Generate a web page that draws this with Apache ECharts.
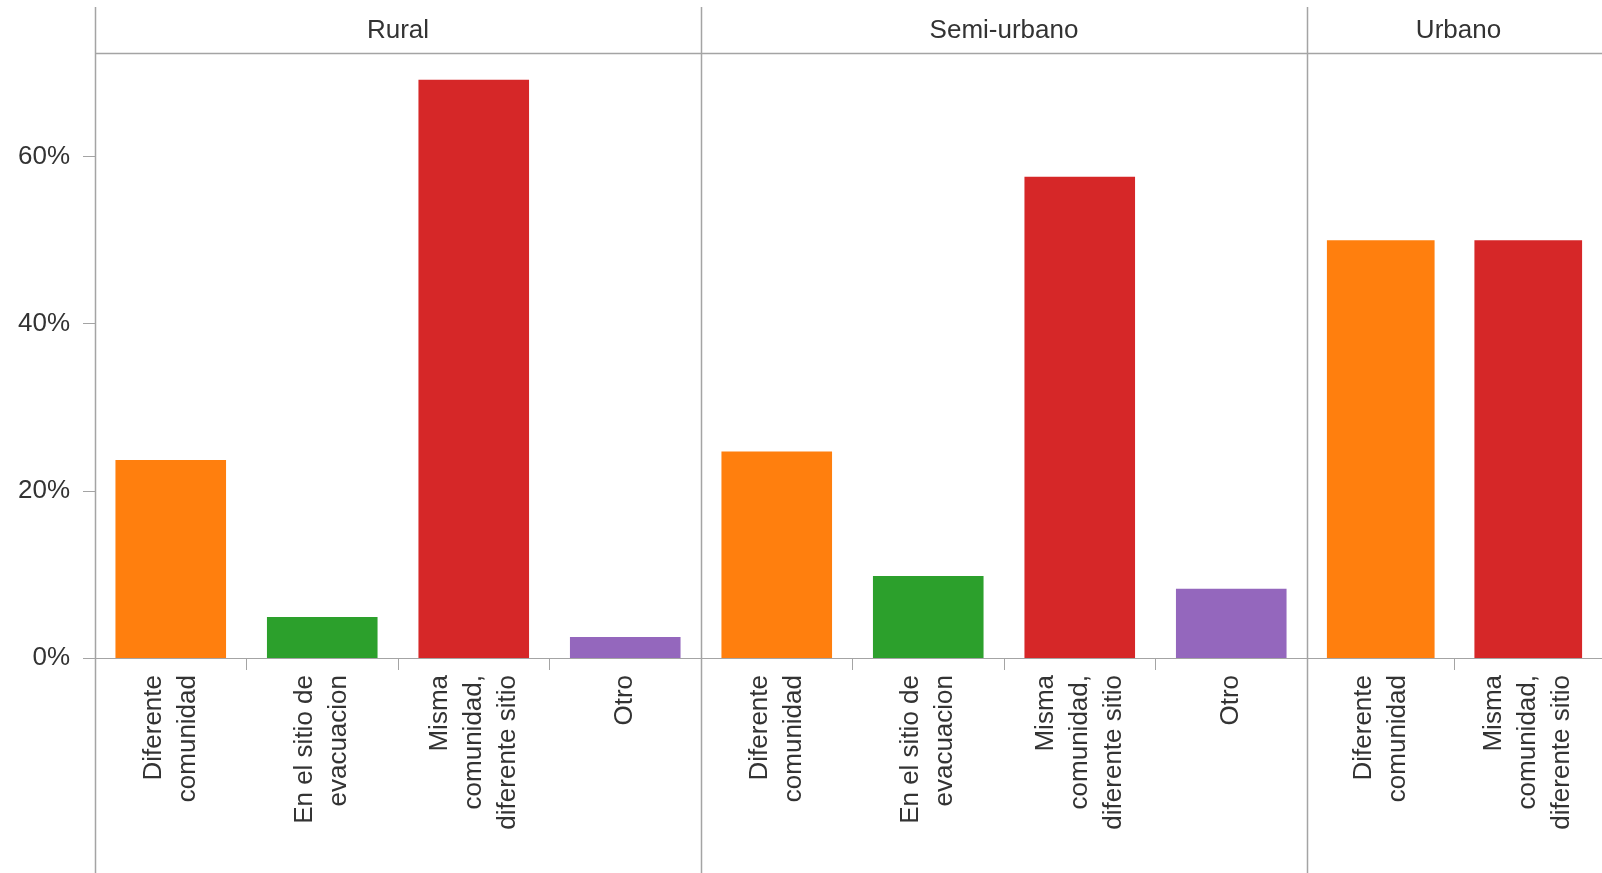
<!DOCTYPE html>
<html><head><meta charset="utf-8">
<script src="https://cdn.jsdelivr.net/npm/echarts@6/dist/echarts.min.js"></script>
<style>html,body{margin:0;padding:0;background:#fff}#c{width:1602px;height:873px}</style>
</head><body><div id="c"></div>
<script>
// ---- data ----
const panels = ['Rural', 'Semi-urbano', 'Urbano'];
const ruralCategories = ['Diferente comunidad', 'En el sitio de evacuacion', 'Misma comunidad, diferente sitio', 'Otro'];
const ruralValues = [23.7, 4.9, 69.2, 2.5];
const semiCategories = ['Diferente comunidad', 'En el sitio de evacuacion', 'Misma comunidad, diferente sitio', 'Otro'];
const semiValues = [24.7, 9.8, 57.6, 8.3];
const urbanoCategories = ['Diferente comunidad', 'Misma comunidad, diferente sitio'];
const urbanoValues = [50.0, 50.0];
const yTicks = [0, 20, 40, 60];
const yMax = 72.4;

// ---- styling ----
const categoryColors = {
  'Diferente comunidad': '#ff7f0e',
  'En el sitio de evacuacion': '#2ca02c',
  'Misma comunidad, diferente sitio': '#d62728',
  'Otro': '#9467bd'
};
const wrappedLabels = {
  'Diferente comunidad': 'Diferente\ncomunidad',
  'En el sitio de evacuacion': 'En el sitio de\nevacuacion',
  'Misma comunidad, diferente sitio': 'Misma\ncomunidad,\ndiferente sitio',
  'Otro': 'Otro'
};
const FONT = '"Liberation Sans", Arial, sans-serif';
const TEXT = '#333';
const LINE = '#a4a4a4';
const LEFT = 95, BAND = 151.5, TOP = 53, AXIS_Y = 658, FRAME_TOP = 7, H = 873, W = 1602;

const panelData = [
  [ruralCategories, ruralValues],
  [semiCategories, semiValues],
  [urbanoCategories, urbanoValues]
];

const grids = [], xAxes = [], yAxes = [], series = [], graphics = [];
let offset = 0;
panelData.forEach(([cats, vals], i) => {
  const left = LEFT + BAND * offset;
  const width = BAND * cats.length;
  grids.push({ left: left, width: width, top: TOP, bottom: H - AXIS_Y, containLabel: false });
  xAxes.push({
    type: 'category', gridIndex: i, data: cats,
    axisLine: { show: true, lineStyle: { color: LINE, width: 1 } },
    axisTick: { show: true, length: 12, lineStyle: { color: LINE } },
    axisLabel: {
      rotate: 90, margin: 17, interval: 0,
      fontFamily: FONT, fontSize: 26, lineHeight: 34, color: TEXT,
      formatter: v => wrappedLabels[v]
    }
  });
  yAxes.push({
    type: 'value', gridIndex: i, min: 0, max: yMax, interval: 20,
    show: i === 0,
    axisLine: { show: false },
    axisTick: { show: true, length: 12, customValues: yTicks, lineStyle: { color: LINE } },
    axisLabel: { margin: 25, customValues: yTicks, formatter: '{value}%', fontFamily: FONT, fontSize: 26, color: TEXT },
    splitLine: { show: false }
  });
  series.push({
    type: 'bar', xAxisIndex: i, yAxisIndex: i,
    barCategoryGap: '27%',
    data: vals.map((v, k) => ({ value: v, itemStyle: { color: categoryColors[cats[k]] } })),
    silent: true
  });
  // frame: vertical separator at panel start, panel title
  const xs = Math.round(left) + 0.5;
  graphics.push({ type: 'line', shape: { x1: xs, y1: FRAME_TOP, x2: xs, y2: H }, style: { stroke: LINE, lineWidth: 1.5 }, z: 10 });
  graphics.push({
    type: 'text', x: left + width / 2, y: (FRAME_TOP + TOP) / 2 + 1,
    style: { text: panels[i], fontFamily: FONT, fontSize: 26, fill: TEXT, align: 'center', verticalAlign: 'middle' }
  });
  offset += cats.length;
});
graphics.push({ type: 'line', shape: { x1: LEFT, y1: TOP + 0.5, x2: W, y2: TOP + 0.5 }, style: { stroke: LINE, lineWidth: 1.5 }, z: 10 });

const chart = echarts.init(document.getElementById('c'));
chart.setOption({
  animation: false,
  backgroundColor: '#fff',
  grid: grids, xAxis: xAxes, yAxis: yAxes, series: series,
  graphic: graphics
});
</script>
</body></html>
